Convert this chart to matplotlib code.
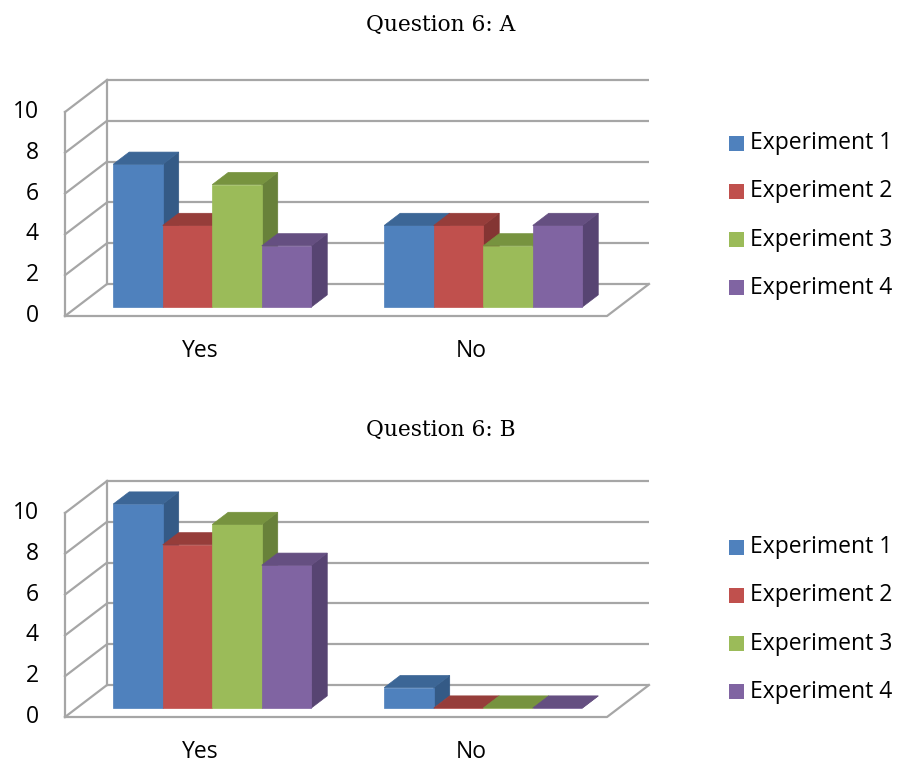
import matplotlib
matplotlib.use("Agg")
import matplotlib.pyplot as plt
from matplotlib.patches import Polygon, Rectangle
import numpy as np

# ---- data ----
categories = ["Yes", "No"]
series_names = ["Experiment 1", "Experiment 2", "Experiment 3", "Experiment 4"]
q6a_values = [[7, 4, 6, 3],   # Yes
              [4, 4, 3, 4]]   # No
q6b_values = [[10, 8, 9, 7],
              [1, 0, 0, 0]]
titles = ["Question 6: A", "Question 6: B"]
y_ticks = [0, 2, 4, 6, 8, 10]

# ---- style ----
front_cols = ["#4F81BD", "#C0504D", "#9BBB59", "#8064A2"]
top_cols = ["#3C6696", "#963D3A", "#77933F", "#654F81"]
side_cols = ["#345A86", "#843533", "#68813A", "#574472"]
grid_col = "#A6A6A6"
SANS = ["Open Sans", "DejaVu Sans"]
SERIF = ["DejaVu Serif"]
FS = 16.5

W, H = 898, 764
fig = plt.figure(figsize=(W / 100, H / 100), dpi=100)

# pixel geometry of one chart panel (relative to the panel's floor front corner)
PX_CAT = 271.0     # pixels per category along the floor
PX_VAL = 20.4      # pixels per value unit
DEPTH_X = 42.0     # pixel shift of the back wall
DEPTH_Y = 32.0
OX = DEPTH_X / PX_CAT   # depth shift in category units
OY = DEPTH_Y / PX_VAL   # depth shift in value units
BAR_W = 0.1827
BAR_D0, BAR_D1 = 0.28, 0.66
GROUP_W = 4 * BAR_W


def proj(x, v, d):
    return (x + d * OX, v + d * OY)


def draw_panel(top_px, bottom_px, floor_left_px, floor_y_px, values, title, title_y):
    # axes covering a horizontal band of the figure, data units = (category, value)
    ax = fig.add_axes([0, 1 - bottom_px / H, 1, (bottom_px - top_px) / H])
    ax.set_xlim((0 - floor_left_px) / PX_CAT, (W - floor_left_px) / PX_CAT)
    ax.set_ylim((floor_y_px - bottom_px) / PX_VAL, (floor_y_px - top_px) / PX_VAL)
    ax.axis("off")

    ncat = len(categories)
    vmax = y_ticks[-1]
    lw = 1.6
    # back wall gridlines
    for t in y_ticks:
        p0, p1 = proj(0, t, 1), proj(ncat, t, 1)
        ax.plot([p0[0], p1[0]], [p0[1], p1[1]], color=grid_col, lw=lw, solid_capstyle="butt")
    # back wall left edge
    p0, p1 = proj(0, 0, 1), proj(0, vmax, 1)
    ax.plot([p0[0], p1[0]], [p0[1], p1[1]], color=grid_col, lw=lw)
    # side wall: front edge and diagonals
    p0, p1 = proj(0, 0, 0), proj(0, vmax, 0)
    ax.plot([p0[0], p1[0]], [p0[1], p1[1]], color=grid_col, lw=lw)
    for t in y_ticks:
        p0, p1 = proj(0, t, 0), proj(0, t, 1)
        ax.plot([p0[0], p1[0]], [p0[1], p1[1]], color=grid_col, lw=lw)
    # floor outline
    pts = [proj(0, 0, 0), proj(ncat, 0, 0), proj(ncat, 0, 1)]
    ax.plot([p[0] for p in pts], [p[1] for p in pts], color=grid_col, lw=lw)

    # bars
    for ci, cat_vals in enumerate(values):
        x_start = ci + 0.5 - GROUP_W / 2
        for si, v in enumerate(cat_vals):
            x0 = x_start + si * BAR_W
            x1 = x0 + BAR_W
            front = [proj(x0, 0, BAR_D0), proj(x1, 0, BAR_D0),
                     proj(x1, v, BAR_D0), proj(x0, v, BAR_D0)]
            top = [proj(x0, v, BAR_D0), proj(x1, v, BAR_D0),
                   proj(x1, v, BAR_D1), proj(x0, v, BAR_D1)]
            side = [proj(x1, 0, BAR_D0), proj(x1, 0, BAR_D1),
                    proj(x1, v, BAR_D1), proj(x1, v, BAR_D0)]
            for poly, col in ((side, side_cols[si]), (front, front_cols[si]), (top, top_cols[si])):
                ax.add_patch(Polygon(poly, closed=True, facecolor=col,
                                     edgecolor=col, lw=0.5, zorder=3))

    # value axis labels at the front edge
    for t in y_ticks:
        x, y = proj(0, t, 0)
        ax.text(x - 26 / PX_CAT, y, str(t), ha="right", va="center",
                fontsize=FS, family=SANS, color="#000000")
    # category labels
    for ci, name in enumerate(categories):
        ax.text(ci + 0.5, -35 / PX_VAL, name, ha="center", va="center",
                fontsize=FS, family=SANS, color="#000000", clip_on=False)

    # title
    fig.text(441 / W, 1 - title_y / H, title, ha="center", va="center",
             fontsize=15.7, family=SERIF)


def draw_legend(first_row_px):
    for si, name in enumerate(series_names):
        yc = first_row_px + si * 48.3
        fig.patches.append(Rectangle((729 / W, 1 - (yc + 7.5) / H), 15 / W, 15 / H,
                                     transform=fig.transFigure, facecolor=front_cols[si],
                                     edgecolor="none"))
        fig.text(750 / W, 1 - yc / H, name, ha="left", va="center",
                 fontsize=FS, family=SANS)


draw_panel(0, 400, 65, 316, q6a_values, titles[0], 25)
draw_legend(143)
draw_panel(400, 764, 65, 717, q6b_values, titles[1], 430)
draw_legend(547)

fig.savefig("out.png", dpi=100, facecolor="white")
